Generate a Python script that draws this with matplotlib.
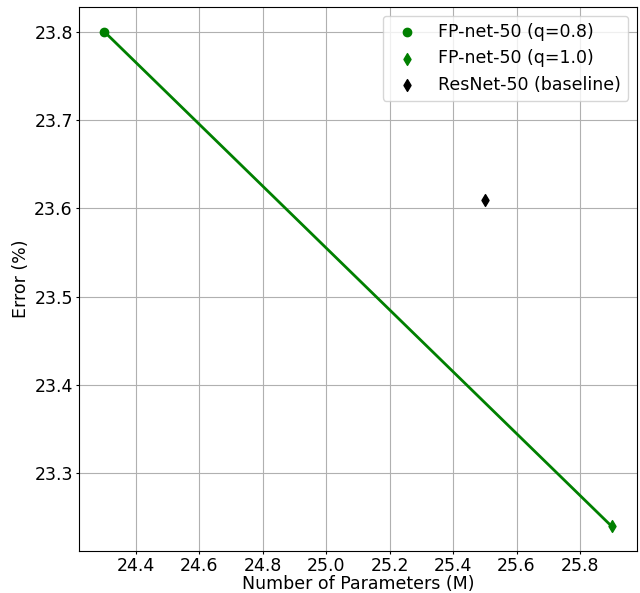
import matplotlib
matplotlib.use("Agg")
import matplotlib.pyplot as plt

# parameters (M) and top-1 error (%)
fp08_params = [24.3]
fp08_err = [23.80]
fp10_params = [25.9]
fp10_err = [23.24]
base_params = [25.5]
base_err = [23.61]

fig = plt.figure(figsize=(6.4, 5.93), dpi=100)
ax = fig.add_axes([79/640, 1-551/593, (637-79)/640, (551-7)/593])
ax.plot(fp08_params + fp10_params, fp08_err + fp10_err, color="green", lw=2)
ax.scatter(fp08_params, fp08_err, color="green", marker="o", label="FP-net-50 (q=0.8)", zorder=3)
ax.scatter(fp10_params, fp10_err, color="green", marker="d", label="FP-net-50 (q=1.0)", zorder=3)
ax.scatter(base_params, base_err, color="black", marker="d", label="ResNet-50 (baseline)", zorder=3)
ax.set_xticks([24.4, 24.6, 24.8, 25.0, 25.2, 25.4, 25.6, 25.8])
ax.set_yticks([23.3, 23.4, 23.5, 23.6, 23.7, 23.8])
ax.tick_params(labelsize=12.5, length=2.5, pad=2)
ax.set_xlabel("Number of Parameters (M)", fontsize=12.5, labelpad=0)
ax.set_ylabel("Error (%)", fontsize=12.5, labelpad=3)
ax.grid(True, color="#b0b0b0", lw=0.8)
ax.legend(fontsize=12.5, loc="upper right")
fig.savefig("out.png", dpi=100)
